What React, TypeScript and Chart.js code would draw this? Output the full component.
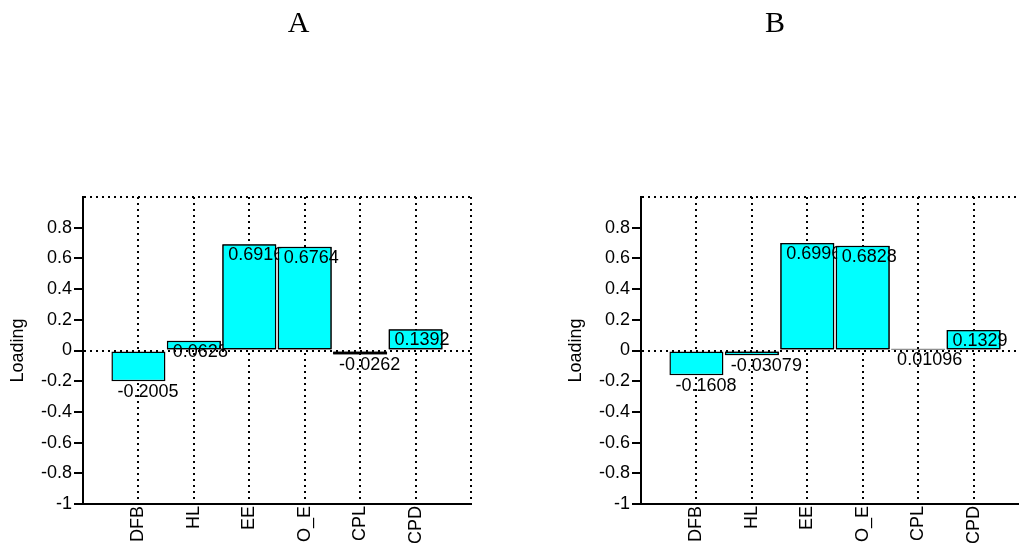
import React, { useEffect, useRef } from "react";
import { Chart, registerables } from "chart.js";

Chart.register(...registerables);

const categories = ["DFB", "HL", "EE", "O_E", "CPL", "CPD"];
const valuesA = [-0.2005, 0.0628, 0.6916, 0.6764, -0.0262, 0.1392];
const valuesB = [-0.1608, -0.03079, 0.6996, 0.6828, 0.01096, 0.1329];
const yTickLabels = ["-1", "-0.8", "-0.6", "-0.4", "-0.2", "0", "0.2", "0.4", "0.6", "0.8", ""];
const panelTitles = ["A", "B"];

const SANS = "'Liberation Sans', Arial, sans-serif";
const SERIF = "'Liberation Serif', 'Times New Roman', serif";

const labelPlugin = {
  id: "valueLabels",
  afterDatasetsDraw(chart: any) {
    const ctx = chart.ctx;
    const meta = chart.getDatasetMeta(0);
    const ds = chart.data.datasets[0];
    ctx.save();
    const setText = () => {
      ctx.font = `18px ${SANS}`;
      ctx.fillStyle = "#000";
      ctx.textAlign = "left";
      ctx.textBaseline = "top";
    };
    setText();
    for (let i = 0; i < meta.data.length; i++) {
      const el = meta.data[i];
      const p = el.getProps(["x", "y", "width"], true);
      const left = p.x - p.width / 2;
      const v = ds.data[i].y;
      ctx.fillText(String(v), left + 6, p.y + 2);
      if (i + 1 < meta.data.length) {
        meta.data[i + 1].draw(ctx);
        setText();
      }
    }
    ctx.restore();
  },
};

function Panel({ values, left }: { values: number[]; left: number }) {
  const ref = useRef<HTMLCanvasElement>(null);
  useEffect(() => {
    if (!ref.current) return;
    const chart = new Chart(ref.current, {
      type: "bar",
      data: {
        datasets: [
          {
            data: values.map((v, i) => ({ x: i + 1, y: v })),
            backgroundColor: "#00FFFF",
            borderColor: "#000",
            borderWidth: 1.5,
            borderSkipped: false,
            barPercentage: 1,
            categoryPercentage: 0.975,
          },
        ],
      },
      options: {
        animation: false,
        responsive: false,
        devicePixelRatio: 1,
        layout: { padding: { top: 197, right: 29, left: 0, bottom: 0 } },
        plugins: {
          legend: { display: false },
          tooltip: { enabled: false },
          title: { display: false },
        },
        scales: {
          x: {
            type: "linear",
            min: 0,
            max: 7,
            offset: false,
            afterFit: (s: any) => {
              s.height = 40;
            },
            grid: {
              offset: false,
              drawTicks: false,
              lineWidth: 2,
              color: (c: any) => (c.tick && c.tick.value === 0 ? "rgba(0,0,0,0)" : "#000"),
            },
            border: { display: true, color: "#000", width: 2, dash: [2, 4] },
            ticks: {
              stepSize: 1,
              autoSkip: false,
              maxRotation: 90,
              minRotation: 90,
              padding: 2,
              color: "#000",
              font: { family: SANS, size: 18 },
              callback: (v: any) => categories[Number(v) - 1] ?? "",
            },
          },
          y: {
            type: "linear",
            min: -1,
            max: 1,
            afterFit: (s: any) => {
              s.width = 83;
            },
            grid: {
              lineWidth: 2,
              tickLength: 9,
              tickWidth: 2,
              tickBorderDash: [],
              color: (c: any) =>
                c.tick && (Math.abs(c.tick.value) < 1e-9 || c.tick.value > 0.999) ? "#000" : "rgba(0,0,0,0)",
              tickColor: (c: any) => (c.tick && c.tick.value > 0.999 ? "rgba(0,0,0,0)" : "#000"),
            },
            border: { display: true, color: "#000", width: 2, dash: [2, 4] },
            ticks: {
              stepSize: 0.2,
              padding: 2,
              color: "#000",
              font: { family: SANS, size: 18 },
              callback: (_v: any, i: number) => yTickLabels[i] ?? "",
            },
            title: {
              display: true,
              text: "Loading",
              color: "#000",
              font: { family: SANS, size: 18 },
              padding: { top: 7, bottom: 0 },
            },
          },
        },
      } as any,
      plugins: [labelPlugin],
    });
    return () => chart.destroy();
  }, [values]);
  return (
    <canvas
      ref={ref}
      width={500}
      height={544}
      style={{ position: "absolute", left, top: 0, width: 500, height: 544 }}
    />
  );
}

export default function App() {
  const titleStyle = (center: number): React.CSSProperties => ({
    position: "absolute",
    left: center - 50,
    width: 100,
    top: 7,
    textAlign: "center",
    fontFamily: SERIF,
    fontSize: 30,
    lineHeight: "30px",
    color: "#000",
  });
  return (
    <div
      style={{
        position: "fixed",
        left: 0,
        top: 0,
        width: 1019,
        height: 544,
        overflow: "hidden",
        background: "#fff",
      }}
    >
      <Panel values={valuesA} left={0} />
      <Panel values={valuesB} left={558} />
      <div style={titleStyle(298.5)}>{panelTitles[0]}</div>
      <div style={titleStyle(775)}>{panelTitles[1]}</div>
    </div>
  );
}
